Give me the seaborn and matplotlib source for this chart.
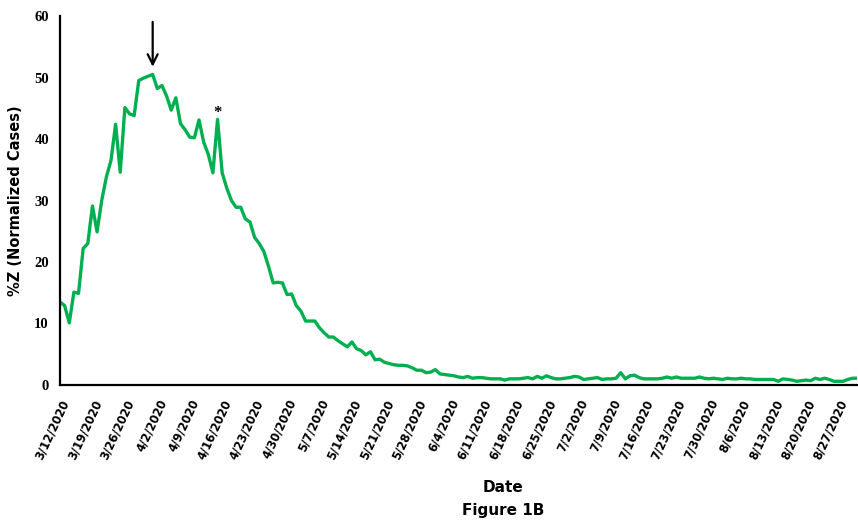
import matplotlib
matplotlib.use("Agg")
import matplotlib.pyplot as plt
import numpy as np
import pandas as pd
import seaborn as sns

# %Z (normalized cases), one value per day starting 3/12/2020
start_date = "2020-03-12"
pct_z = [
    13.5, 12.9, 10.1, 15.1, 14.9, 22.2, 23.0, 29.1, 24.9, 30.0,
    33.8, 36.5, 42.4, 34.6, 45.1, 44.1, 43.8, 49.5, 49.9, 50.2,
    50.5, 48.2, 48.7, 47.0, 44.7, 46.7, 42.5, 41.5, 40.3, 40.2,
    43.1, 39.5, 37.5, 34.5, 43.2, 34.5, 32.0, 30.0, 28.9, 28.9,
    27.0, 26.5, 24.0, 23.0, 21.7, 19.3, 16.6, 16.7, 16.6, 14.7,
    14.8, 12.9, 12.0, 10.4, 10.4, 10.4, 9.3, 8.5, 7.8, 7.8,
    7.2, 6.7, 6.2, 7.0, 5.9, 5.6, 4.9, 5.4, 4.1, 4.2,
    3.7, 3.5, 3.3, 3.2, 3.2, 3.1, 2.8, 2.4, 2.4, 2.0,
    2.1, 2.5, 1.8, 1.7, 1.6, 1.5, 1.3, 1.2, 1.4, 1.1,
    1.2, 1.2, 1.1, 1.0, 1.0, 1.0, 0.8, 1.0, 1.0, 1.0,
    1.1, 1.2, 1.0, 1.4, 1.1, 1.5, 1.2, 1.0, 1.0, 1.1,
    1.2, 1.4, 1.3, 0.9, 1.0, 1.1, 1.2, 0.9, 1.0, 1.0,
    1.1, 2.0, 1.0, 1.5, 1.6, 1.2, 1.0, 1.0, 1.0, 1.0,
    1.1, 1.3, 1.1, 1.3, 1.1, 1.1, 1.1, 1.1, 1.3, 1.1,
    1.0, 1.1, 1.0, 0.9, 1.1, 1.0, 1.0, 1.1, 1.0, 1.0,
    0.9, 0.9, 0.9, 0.9, 0.9, 0.6, 1.0, 0.9, 0.8, 0.6,
    0.7, 0.8, 0.7, 1.1, 0.9, 1.1, 0.9, 0.6, 0.6, 0.6,
    0.9, 1.1, 1.1,
]
peak_day = 20      # arrow
spike_day = 34     # asterisk

dates = pd.date_range(start_date, periods=len(pct_z), freq="D")
df = pd.DataFrame({"date": dates, "pct_z": pct_z})

sns.set_style("white")
plt.rcParams["font.family"] = ["DejaVu Sans"]
plt.rcParams["text.color"] = "black"
plt.rcParams["axes.labelcolor"] = "black"
plt.rcParams["xtick.color"] = "black"
plt.rcParams["ytick.color"] = "black"

fig = plt.figure(figsize=(8.58, 5.23), dpi=100)
ax = fig.add_axes([60 / 858, 138 / 523, 797 / 858, 369 / 523])

sns.lineplot(data=df, x="date", y="pct_z", ax=ax, color="#00B050", linewidth=2.4)

ax.set_xlim(dates[0], dates[-1])
ax.set_ylim(0, 60)
ax.set_yticks(np.arange(0, 61, 10))
ax.set_yticklabels([str(v) for v in range(0, 61, 10)],
                   family="Liberation Serif", fontweight="bold", fontsize=10.5)

tick_dates = dates[::7]
ax.set_xticks(tick_dates)
ax.set_xticklabels([f"{d.month}/{d.day}/{d.year}" for d in tick_dates],
                   rotation=65, ha="right", rotation_mode="anchor",
                   fontweight="bold", fontsize=8.3)

for side in ["top", "right"]:
    ax.spines[side].set_visible(False)
for side in ["left", "bottom"]:
    ax.spines[side].set_color("black")
    ax.spines[side].set_linewidth(1.6)
ax.tick_params(axis="both", direction="out", length=5, width=1.6, color="black", pad=3)
ax.tick_params(axis="x", pad=4)

ax.set_xlabel("")
ax.set_ylabel("%Z (Normalized Cases)", fontweight="bold", fontsize=10.5, labelpad=8)

# arrow at the peak, asterisk at the spike
ax.annotate("", xy=(dates[peak_day], 51.3), xytext=(dates[peak_day], 59.5),
            arrowprops=dict(arrowstyle="->", color="black", lw=1.6, mutation_scale=18))
ax.text(dates[spike_day], 43.0, "*", ha="center", va="bottom",
        fontsize=12, fontweight="bold", family="Liberation Serif")

fig.text(503 / 858, 1 - 488 / 523, "Date", ha="center", va="center",
         fontweight="bold", fontsize=11)
fig.text(503 / 858, 1 - 511 / 523, "Figure 1B", ha="center", va="center",
         fontweight="bold", fontsize=11)

fig.savefig("out.png", dpi=100)
